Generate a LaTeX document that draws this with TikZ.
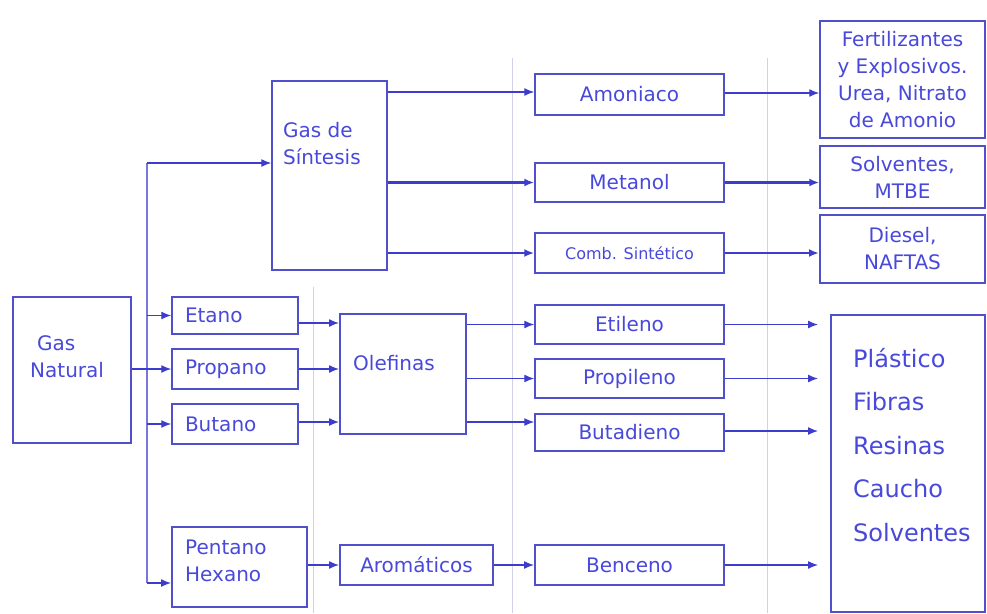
\documentclass[tikz,border=0pt]{standalone}
\usepackage{fontspec}
\setmainfont{DejaVu Sans}
\usetikzlibrary{arrows.meta}
\definecolor{boxc}{RGB}{80,80,205}
\definecolor{txtc}{RGB}{72,72,218}
\definecolor{linec}{RGB}{60,60,205}
\definecolor{divc}{RGB}{208,208,230}
\begin{document}
\begin{tikzpicture}[x=1pt,y=-1pt,
  box/.style={draw=boxc,line width=1.5pt,inner sep=0pt,text=txtc,
    font=\fontsize{20}{27}\selectfont,align=center},
  lbl/.style={text=txtc,inner sep=0pt,font=\fontsize{20}{27}\selectfont},
  wire/.style={draw=linec,line width=1.3pt},
  arr/.style={wire,-{Latex[length=10pt,width=8pt]}},
  divider/.style={draw=divc,line width=1pt}]
\useasboundingbox (0,0) rectangle (987,613);

% column dividers
\draw[divider] (313,287) -- (313,613);
\draw[divider] (512,58) -- (512,613);
\draw[divider] (767,58) -- (767,613);

% feed stocks
\node[box,minimum width=118pt,minimum height=146pt] (gn) at (72,370) {};
\node[lbl,align=left,anchor=west] (gnl) at (30,356.5) {\hspace*{7pt}Gas\\Natural};
\node[box,minimum width=115pt,minimum height=189pt] (gs) at (329.5,175.5) {};
\node[lbl,align=left,anchor=west] (gsl) at (283,143.5) {Gas de\\Síntesis};

\node[box,minimum width=126pt,minimum height=37pt,text width=100pt,align=left] (etano) at (235,315.5) {Etano};
\node[box,minimum width=126pt,minimum height=40pt,text width=100pt,align=left] (propano) at (235,369) {Propano};
\node[box,minimum width=126pt,minimum height=40pt,text width=100pt,align=left] (butano) at (235,424) {Butano};
\node[box,line width=2pt,minimum width=135pt,minimum height=80pt] (pent) at (239.5,567) {};
\node[lbl,align=left,anchor=west] (pentl) at (185,561) {Pentano\\Hexano};

% intermediates
\node[box,line width=2pt,minimum width=126pt,minimum height=120pt] (olef) at (403,374) {};
\node[lbl,anchor=west] (olefl) at (353,363) {Olefinas};
\node[box,line width=2pt,minimum width=153pt,minimum height=40pt] (arom) at (416.5,565) {Aromáticos};

% products
\node[box,minimum width=189pt,minimum height=41pt] (amon) at (629.5,94.5) {Amoniaco};
\node[box,minimum width=189pt,minimum height=39pt] (metanol) at (629.5,182.5) {Metanol};
\node[box,minimum width=189pt,minimum height=40pt,font=\fontsize{16}{20}\selectfont] (comb) at (629.5,253) {Comb. Sintético};
\node[box,minimum width=189pt,minimum height=39pt] (etil) at (629.5,324.5) {Etileno};
\node[box,minimum width=189pt,minimum height=39pt] (propil) at (629.5,378.5) {Propileno};
\node[box,minimum width=189pt,minimum height=37pt] (butad) at (629.5,432.5) {Butadieno};
\node[box,line width=2pt,minimum width=189pt,minimum height=40pt] (benc) at (629.5,565) {Benceno};

% end uses
\node[box,minimum width=165pt,minimum height=117pt] (fert) at (902.5,79.5) {Fertilizantes\\y Explosivos.\\Urea, Nitrato\\de Amonio};
\node[box,minimum width=165pt,minimum height=62pt] (solv) at (902.5,177) {Solventes,\\MTBE};
\node[box,line width=2pt,minimum width=165pt,minimum height=68pt] (diesel) at (902.5,249) {Diesel,\\NAFTAS};
\node[box,line width=2pt,minimum width=154pt,minimum height=297pt] (big) at (908,463.5) {};
\node[lbl,align=left,anchor=north west,font=\fontsize{24}{43.5}\selectfont] (bigl) at (853,348) {Plástico\\Fibras\\Resinas\\Caucho\\Solventes};

% distribution trunk from the natural gas
\coordinate (ttop) at (147,163);
\coordinate (tbot) at (147,583);
\draw[wire,draw=linec!70] (ttop) -- (tbot);
\draw[arr] (ttop) -- (gs.west |- ttop);
\draw[arr] (ttop |- etano.west) -- (etano.west);
\draw[arr] (gn.east |- propano.west) -- (propano.west);
\draw[arr] (ttop |- butano.west) -- (butano.west);
\draw[arr] (tbot) -- (pent.west |- tbot);

% into olefins and aromatics
\draw[arr] ([yshift=-7.5pt]etano.east) -- ([yshift=-7.5pt]etano.east -| olef.west);
\draw[arr] (propano.east) -- (propano.east -| olef.west);
\draw[arr] ([yshift=2pt]butano.east) -- ([yshift=2pt]butano.east -| olef.west);
\draw[arr] (pent.east |- arom.west) -- (arom.west);

% synthesis gas branches
\draw[arr] ([yshift=2.5pt]amon.west -| gs.east) -- ([yshift=2.5pt]amon.west);
\draw[arr,line width=2.2pt] (gs.east |- metanol.west) -- (metanol.west);
\draw[arr,line width=2pt] (gs.east |- comb.west) -- (comb.west);

% olefin branches
\draw[arr] (olef.east |- etil.west) -- (etil.west);
\draw[arr] (olef.east |- propil.west) -- (propil.west);
\draw[arr] ([yshift=10.5pt]butad.west -| olef.east) -- ([yshift=10.5pt]butad.west);
\draw[arr] (arom.east) -- (benc.west);

% to end uses
\draw[arr] ([yshift=1.5pt]amon.east) -- ([yshift=1.5pt]amon.east -| fert.west);
\draw[arr,line width=2.2pt] (metanol.east) -- (metanol.east -| solv.west);
\draw[arr,line width=2pt] (comb.east) -- (comb.east -| diesel.west);
\draw[arr,shorten >=12pt] (etil.east) -- (etil.east -| big.west);
\draw[arr,shorten >=12pt] (propil.east) -- (propil.east -| big.west);
\draw[arr,shorten >=12pt] ([yshift=1.5pt]butad.east) -- ([yshift=1.5pt]butad.east -| big.west);
\draw[arr,shorten >=12pt] (benc.east) -- (benc.east -| big.west);
\end{tikzpicture}
\end{document}
